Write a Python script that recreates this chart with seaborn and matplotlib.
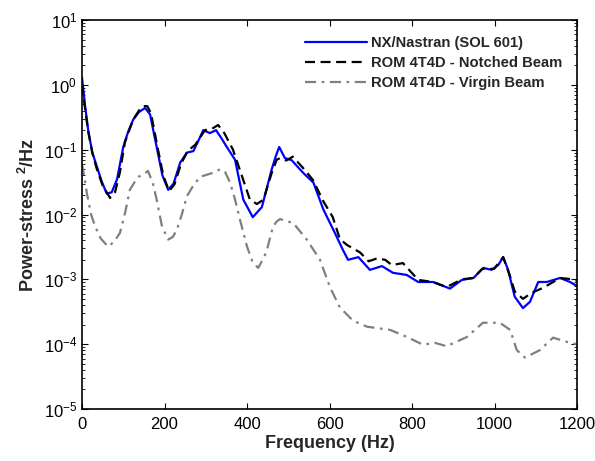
import numpy as np
import pandas as pd
import matplotlib
matplotlib.use("Agg")
import matplotlib.pyplot as plt
import seaborn as sns
from matplotlib.ticker import FixedLocator, LogLocator, NullFormatter

# --- values (frequency in Hz, PSD in stress^2/Hz) ---
nx_freq = [0, 7, 15, 25, 36, 48, 60, 72, 85, 100, 112, 124, 138, 153, 165, 181,
           195, 209, 222, 238, 254, 270, 285, 294, 310, 325, 338, 351, 371, 391,
           414, 436, 460, 470, 478, 492, 508, 536, 561, 585, 613, 633, 645, 670,
           698, 727, 754, 787, 815, 851, 892, 921, 949, 973, 993, 1009, 1021,
           1033, 1049, 1069, 1086, 1106, 1127, 1159, 1183, 1200]
nx_psd = [1.3, 0.5, 0.2, 0.09, 0.055, 0.032, 0.021, 0.022, 0.035, 0.11, 0.19,
          0.29, 0.38, 0.44, 0.35, 0.11, 0.04, 0.024, 0.03, 0.063, 0.09, 0.095,
          0.15, 0.2, 0.18, 0.2, 0.15, 0.11, 0.07, 0.017, 0.0091, 0.013, 0.05,
          0.08, 0.11, 0.074, 0.069, 0.044, 0.031, 0.012, 0.0052, 0.0028, 0.002,
          0.0022, 0.0014, 0.0016, 0.00126, 0.00117, 0.00091, 0.00091, 0.00072,
          0.00098, 0.00105, 0.0015, 0.0014, 0.00166, 0.0022, 0.0014, 0.00054,
          0.00036, 0.00045, 0.00091, 0.00091, 0.00105, 0.00091, 0.00079]

notched_freq = [0, 7, 15, 25, 36, 50, 68, 80, 92, 104, 124, 140, 148, 158, 167,
                183, 197, 211, 224, 240, 256, 275, 298, 315, 330, 345, 366, 391,
                407, 424, 440, 460, 472, 480, 495, 511, 535, 560, 585, 608, 625,
                642, 674, 695, 715, 735, 751, 778, 815, 851, 884, 921, 949, 970,
                999, 1021, 1038, 1049, 1069, 1090, 1118, 1159, 1190, 1200]
notched_psd = [1.0, 0.45, 0.19, 0.09, 0.05, 0.028, 0.018, 0.022, 0.045, 0.13,
               0.29, 0.42, 0.47, 0.47, 0.37, 0.11, 0.04, 0.023, 0.029, 0.06,
               0.095, 0.12, 0.2, 0.21, 0.24, 0.18, 0.1, 0.034, 0.017, 0.0145,
               0.017, 0.044, 0.07, 0.074, 0.068, 0.078, 0.053, 0.034, 0.016,
               0.0091, 0.0042, 0.0034, 0.0026, 0.0019, 0.0021, 0.002, 0.00166,
               0.00178, 0.00098, 0.00091, 0.00076, 0.001, 0.00105, 0.00145,
               0.00145, 0.0022, 0.0011, 0.00065, 0.0005, 0.00062, 0.00074,
               0.00105, 0.001, 0.00095]

virgin_freq = [0, 5, 12, 22, 32, 45, 63, 78, 92, 105, 116, 128, 136, 150, 160,
               172, 181, 194, 209, 220, 230, 242, 254, 270, 286, 302, 318, 335,
               347, 359, 370, 383, 400, 413, 427, 440, 448, 463, 472, 480, 496,
               512, 545, 577, 601, 625, 657, 691, 747, 788, 827, 855, 884, 933,
               972, 1013, 1038, 1054, 1074, 1110, 1142, 1183, 1200]
virgin_psd = [0.06, 0.04, 0.021, 0.01, 0.0065, 0.0043, 0.0032, 0.0038, 0.0052,
              0.011, 0.024, 0.032, 0.038, 0.042, 0.047, 0.03, 0.017, 0.0065,
              0.0041, 0.0045, 0.0058, 0.01, 0.019, 0.028, 0.038, 0.041, 0.044,
              0.05, 0.045, 0.031, 0.018, 0.0083, 0.0032, 0.0019, 0.0015, 0.0021,
              0.0028, 0.0065, 0.0078, 0.0085, 0.0079, 0.0074, 0.0041, 0.002,
              0.00076, 0.00037, 0.00023, 0.000186, 0.000166, 0.000129, 0.000098,
              0.000105, 0.000093, 0.000129, 0.000214, 0.000214, 0.000166,
              0.000081, 0.000062, 0.000081, 0.000126, 0.000105, 0.0001]

x_ticks = [0, 200, 400, 600, 800, 1000, 1200]
y_ticks = [1e-5, 1e-4, 1e-3, 1e-2, 1e-1, 1e0, 1e1]
labels = ["NX/Nastran (SOL 601)", "ROM 4T4D - Notched Beam", "ROM 4T4D - Virgin Beam"]

sns.set_style("ticks")
plt.rcParams["font.family"] = ["Liberation Sans", "DejaVu Sans"]
plt.rcParams["mathtext.fontset"] = "custom"
plt.rcParams["mathtext.rm"] = "Liberation Sans"
plt.rcParams["mathtext.it"] = "Liberation Sans:italic"
plt.rcParams["mathtext.bf"] = "Liberation Sans:bold"

fig = plt.figure(figsize=(5.95, 4.61), dpi=100)
ax = fig.add_axes([82 / 595, 1 - 409 / 461, 495 / 595, 389 / 461])

sns.lineplot(x=nx_freq, y=nx_psd, ax=ax, color="#0000ff", lw=1.6, label=labels[0])
sns.lineplot(x=notched_freq, y=notched_psd, ax=ax, color="black", lw=1.6,
             label=labels[1])
sns.lineplot(x=virgin_freq, y=virgin_psd, ax=ax, color="#808080", lw=1.6,
             label=labels[2])
ax.lines[1].set_dashes([4.5, 2.5])
ax.lines[2].set_dashes([5, 2.5, 1.2, 2.5])

ax.set_yscale("log")
ax.set_xlim(0, 1200)
ax.set_ylim(1e-5, 1e1)
ax.set_xticks(x_ticks)
ax.set_xticklabels([str(t) for t in x_ticks])
ax.yaxis.set_major_locator(FixedLocator(y_ticks))
ax.yaxis.set_minor_locator(LogLocator(base=10, subs=np.arange(2, 10), numticks=20))
ax.yaxis.set_minor_formatter(NullFormatter())

ax.tick_params(which="both", direction="in", top=True, right=True, labelsize=12,
               colors="black")
ax.tick_params(which="major", length=4, width=0.8)
ax.tick_params(which="minor", length=2.5, width=0.6)
ax.tick_params(axis="x", pad=6)
for s in ax.spines.values():
    s.set_visible(True)
    s.set_linewidth(1.2)
    s.set_color("black")

ax.set_xlabel("Frequency (Hz)", fontsize=13, fontweight="bold", labelpad=2)
ax.set_ylabel(r"Power-stress $^{\mathbf{2}}$/Hz", fontsize=13, fontweight="bold",
              labelpad=4)

leg = ax.legend(loc="upper right", frameon=False, prop={"weight": "bold", "size": 10.6},
                handlelength=4.2, handletextpad=0.3, labelspacing=0.42,
                bbox_to_anchor=(0.995, 0.99), borderpad=0.3)

fig.savefig("out.png", dpi=100)
